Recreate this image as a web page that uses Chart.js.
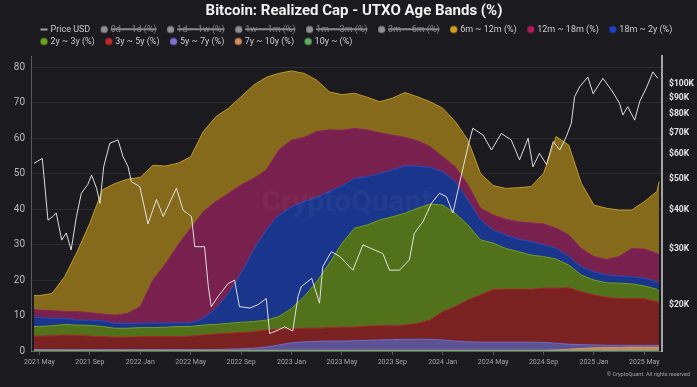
<!DOCTYPE html>
<html><head><meta charset="utf-8">
<script src="https://cdn.jsdelivr.net/npm/chart.js@4.4.1/dist/chart.umd.min.js"></script>
<style>html,body{margin:0;padding:0;background:#1b1b1f;}canvas{display:block;}</style>
</head><body>
<canvas id="c" width="697" height="387"></canvas>
<script>
// ---------- DATA ----------
const bandDates = ['2021-04-18','2021-05-01','2021-06-01','2021-07-01','2021-08-01','2021-09-01','2021-10-01','2021-11-01','2021-12-01',
'2022-01-01','2022-02-01','2022-03-01','2022-04-01','2022-05-01','2022-06-01','2022-07-01','2022-08-01','2022-09-01','2022-10-01','2022-11-01','2022-12-01',
'2023-01-01','2023-02-01','2023-03-01','2023-04-01','2023-05-01','2023-06-01','2023-07-01','2023-08-01','2023-09-01','2023-10-01','2023-11-01','2023-12-01',
'2024-01-01','2024-02-01','2024-03-01','2024-04-01','2024-05-01','2024-06-01','2024-07-01','2024-08-01','2024-09-01','2024-10-01','2024-11-01','2024-12-01',
'2025-01-01','2025-02-01','2025-03-01','2025-04-01','2025-05-01','2025-06-01','2025-06-06'];

const band6m12m = [3.9,4.1,4.8,9.8,16.9,25.2,35.0,37.1,37.8,36.4,32.3,27.6,23.0,20.1,22.6,23.9,24.0,24.8,26.3,26.1,21.6,19.5,18.0,14.5,10.7,10.0,9.9,9.2,8.7,10.4,12.6,12.4,12.6,13.7,12.7,12.6,9.8,8.3,8.7,9.6,10.2,14.2,25.8,25.3,18.3,14.5,14.4,13.1,10.8,13.4,17.4,20.6];
const band12m18m = [2.2,2.1,2.2,1.9,2.4,2.1,1.9,2.3,2.8,4.7,12.1,16.6,22.0,26.7,30.0,30.1,28.2,24.9,20.1,16.9,18.3,18.8,18.1,18.5,17.4,15.7,14.1,13.2,11.5,9.8,8.1,7.1,5.9,4.2,4.2,4.3,3.3,4.3,4.4,4.9,5.3,5.9,5.7,6.1,5.2,4.3,4.4,5.5,8.0,8.2,8.0,8.0];
const band18m2y = [2.6,2.5,2.1,1.7,1.4,1.5,1.6,1.4,1.4,1.2,1.3,1.2,1.0,1.0,1.9,4.5,8.4,13.8,20.2,25.4,28.6,28.6,26.8,23.8,20.2,16.2,14.0,13.6,13.1,13.2,13.3,11.9,10.3,9.4,8.9,7.0,5.6,3.6,3.8,3.5,3.8,3.3,3.0,2.4,2.3,2.3,2.2,2.0,2.0,2.2,2.1,2.4];
const band2y3y = [2.7,2.7,2.8,3.0,2.9,3.0,2.9,2.5,2.5,2.6,2.6,2.7,2.9,2.7,2.8,2.7,2.8,2.9,2.9,2.8,3.6,5.7,8.9,13.1,18.1,23.6,27.9,28.5,29.8,30.7,31.5,32.4,32.7,30.0,26.3,21.1,15.5,13.1,11.5,10.6,9.6,8.9,8.2,6.4,4.7,4.2,4.1,4.3,4.2,3.6,3.5,3.1];
const band3y5y = [3.8,3.8,3.9,4.1,4.0,3.8,3.6,3.5,3.5,3.6,3.6,3.6,3.6,3.8,4.1,4.4,4.5,4.6,4.6,4.8,4.4,4.0,3.8,3.7,3.8,3.9,3.8,4.0,4.0,3.9,4.0,4.5,5.4,8.0,9.7,11.8,13.3,14.8,14.9,14.9,14.9,15.3,15.5,15.9,14.9,14.1,13.5,13.2,13.1,13.1,12.3,12.0];
const band5y7y = [0.2,0.2,0.2,0.2,0.2,0.2,0.2,0.2,0.2,0.2,0.2,0.2,0.2,0.2,0.2,0.2,0.3,0.4,0.6,0.9,1.5,2.1,2.4,2.5,2.6,2.6,2.7,2.8,2.9,3.0,3.1,3.1,3.1,2.9,2.6,2.4,2.3,2.3,2.3,2.3,2.3,2.2,1.9,1.4,1.1,0.8,0.6,0.6,0.5,0.5,0.5,0.5];
const band7y10y = [0.1,0.1,0.1,0.1,0.1,0.1,0.1,0.1,0.1,0.1,0.1,0.1,0.1,0.1,0.1,0.1,0.1,0.1,0.1,0.1,0.1,0.1,0.1,0.1,0.1,0.1,0.1,0.1,0.1,0.1,0.1,0.1,0.1,0.1,0.1,0.1,0.1,0.1,0.1,0.1,0.1,0.1,0.2,0.4,0.6,0.8,0.9,0.9,1.0,1.0,1.0,1.0];
const band10yPlus = [0.1,0.1,0.1,0.1,0.1,0.1,0.1,0.1,0.1,0.1,0.1,0.1,0.1,0.1,0.1,0.1,0.1,0.1,0.1,0.1,0.1,0.1,0.1,0.1,0.1,0.1,0.1,0.1,0.1,0.1,0.1,0.1,0.1,0.1,0.1,0.1,0.1,0.1,0.1,0.1,0.1,0.1,0.1,0.1,0.1,0.1,0.1,0.1,0.1,0.1,0.1,0.1];

const priceDates = ['2021-04-18','2021-05-08','2021-05-13','2021-05-22','2021-06-03','2021-06-11','2021-06-24','2021-07-05','2021-07-17','2021-07-30',
'2021-08-11','2021-08-27','2021-09-05','2021-09-17','2021-09-25','2021-10-04','2021-10-19','2021-11-08','2021-11-20','2021-12-02','2021-12-10','2021-12-31',
'2022-01-20','2022-02-09','2022-02-24','2022-03-28','2022-04-13','2022-05-03','2022-05-11','2022-06-04','2022-06-13','2022-06-20','2022-07-06','2022-07-31',
'2022-08-16','2022-08-28','2022-09-22','2022-10-12','2022-11-01','2022-11-09','2022-11-29','2022-12-15','2023-01-04','2023-01-17','2023-01-25','2023-02-18',
'2023-03-08','2023-03-16','2023-04-06','2023-04-26','2023-05-28','2023-06-21','2023-08-09','2023-08-25','2023-09-18','2023-10-12','2023-10-24','2023-11-14',
'2023-12-04','2023-12-24','2024-01-10','2024-01-26','2024-02-15','2024-03-01','2024-03-13','2024-04-07','2024-04-27','2024-05-21','2024-06-14','2024-07-04',
'2024-07-25','2024-08-06','2024-08-22','2024-09-08','2024-09-24','2024-10-10','2024-10-26','2024-11-07','2024-11-15','2024-11-27','2024-12-17','2024-12-30',
'2025-01-23','2025-02-12','2025-03-02','2025-03-10','2025-03-22','2025-04-08','2025-04-20','2025-05-06','2025-05-22','2025-06-03'];
const priceUSD = [56000,58000,49600,37000,38000,39000,32000,33700,29800,38000,
45000,48000,51400,46700,41800,54600,64800,66400,58800,54600,49000,47200,
36000,43000,38000,46700,39800,38000,30500,30500,22800,19700,21200,23300,
23900,19700,19500,20000,20900,16200,16600,17000,16500,21200,22800,24200,
20200,26400,29400,28400,25700,30900,29000,25700,25700,27700,33600,36600,
41800,45000,43900,39000,51400,63200,72300,68800,61700,69600,66400,57400,
67200,54600,60200,55500,65600,61700,68000,74900,91000,97800,105000,93000,
104000,95500,86700,79600,84600,76700,88000,97000,109000,104000];

const xTickDates = ['2021-05-01','2021-09-01','2022-01-01','2022-05-01','2022-09-01','2023-01-01','2023-05-01','2023-09-01','2024-01-01','2024-05-01','2024-09-01','2025-01-01','2025-05-01'];
const xTickLabels = ['2021 May','2021 Sep','2022 Jan','2022 May','2022 Sep','2023 Jan','2023 May','2023 Sep','2024 Jan','2024 May','2024 Sep','2025 Jan','2025 May'];
const priceTicks = [20000,30000,40000,50000,60000,70000,80000,90000,100000];

// ---------- HELPERS ----------
function toM(s){const [y,m,d]=s.split('-').map(Number);const dim=new Date(y,m,0).getDate();return (y-2021)*12+(m-1)+(d-1)/dim;}
const pts=(dates,vals)=>dates.map((d,i)=>({x:toM(d),y:vals[i]}));
const xTickVals = xTickDates.map(toM);

function dotImg(color){const c=document.createElement('canvas');c.width=24;c.height=10;const g=c.getContext('2d');g.fillStyle=color;g.beginPath();g.arc(16.5,5,3.6,0,Math.PI*2);g.fill();return c;}
function lineImg(color){const c=document.createElement('canvas');c.width=24;c.height=10;const g=c.getContext('2d');g.strokeStyle=color;g.lineWidth=1.5;g.beginPath();g.moveTo(13,5);g.lineTo(20,5);g.stroke();return c;}

const bands = [
  {label:'10y ~ (%)',     data:band10yPlus, legend:'#5fae5f', fill:'rgb(95,160,95)',  line:'rgb(110,180,110)'},
  {label:'7y ~ 10y (%)',  data:band7y10y,   legend:'#d08a5c', fill:'rgb(192,140,98)', line:'rgb(210,150,105)'},
  {label:'5y ~ 7y (%)',   data:band5y7y,    legend:'#7c70d4', fill:'rgb(92,82,150)',  line:'rgb(118,106,196)'},
  {label:'3y ~ 5y (%)',   data:band3y5y,    legend:'#c4262b', fill:'rgb(122,34,34)',  line:'rgb(170,40,40)'},
  {label:'2y ~ 3y (%)',   data:band2y3y,    legend:'#6ea31c', fill:'rgb(82,113,27)',  line:'rgb(112,160,36)'},
  {label:'18m ~ 2y (%)',  data:band18m2y,   legend:'#1f3fc8', fill:'rgb(26,54,140)',  line:'rgb(40,76,192)'},
  {label:'12m ~ 18m (%)', data:band12m18m,  legend:'#b3195f', fill:'rgb(120,33,78)',  line:'rgb(150,36,92)'},
  {label:'6m ~ 12m (%)',  data:band6m12m,   legend:'#d4a017', fill:'rgb(134,106,27)', line:'rgb(192,152,36)'}
];
const hiddenBands = ['3m ~ 6m (%)','1m ~ 3m (%)','1w ~ 1m (%)','1d ~ 1w (%)','0d ~ 1d (%)'];

const datasets = [];
bands.forEach((b,i)=>datasets.push({label:b.label,data:pts(bandDates,b.data),yAxisID:'y',
  backgroundColor:b.fill,borderColor:b.line,borderWidth:1,pointRadius:0,tension:0,
  fill:i===0?'origin':'-1',legendColor:b.legend}));
hiddenBands.forEach(l=>datasets.push({label:l,data:[],yAxisID:'y',hidden:true,fill:false,
  backgroundColor:'#8e8e96',borderColor:'#8e8e96',pointRadius:0,legendColor:'#8e8e96'}));
datasets.push({label:'Price USD',data:pts(priceDates,priceUSD),yAxisID:'y2',order:-1,fill:false,
  borderColor:'rgba(236,236,236,0.92)',backgroundColor:'rgba(236,236,236,0.92)',borderWidth:1,pointRadius:0,tension:0,isPrice:true});

const N = datasets.length;
const rank = i => datasets[i].isPrice ? 0 : (N-1-i);

const bgPlugin={id:'bg',beforeDraw(c){const x=c.ctx;x.save();x.fillStyle='#1b1b1f';x.fillRect(0,0,c.width,c.height);x.restore();}};
// nudge the legend block to start above the plot (like the reference) and the title slightly right
const shiftPlugin={id:'shift',afterLayout(c){ if(c.legend){c.legend.left+=30;} if(c.titleBlock){c.titleBlock.left+=11;} }};
const markPlugin={id:'marks',
  afterDatasetsDraw(c){const x=c.ctx,a=c.chartArea;x.save();x.font='bold 30px Roboto';x.fillStyle='rgba(255,255,255,0.035)';x.textAlign='center';x.textBaseline='middle';x.fillText('CryptoQuant',(a.left+a.right)/2,203);x.restore();},
  afterDraw(c){const x=c.ctx;x.save();x.font='5.5px Roboto';x.fillStyle='#a0a0a6';x.textAlign='right';x.textBaseline='middle';x.fillText('© CryptoQuant. All rights reserved',690,375);x.restore();}};

new Chart(document.getElementById('c'),{
  type:'line',
  data:{datasets},
  plugins:[bgPlugin,shiftPlugin,markPlugin],
  options:{
    responsive:false,animation:false,
    layout:{padding:{left:0,right:0,top:0,bottom:0}},
    plugins:{
      title:{display:true,text:'Bitcoin: Realized Cap - UTXO Age Bands (%)',color:'#f2f2f2',
        font:{family:'Roboto',size:15,weight:'bold'},padding:{top:2,bottom:2}},
      legend:{position:'top',align:'start',
        labels:{usePointStyle:true,pointStyleWidth:13,boxHeight:9,padding:3,color:'#c9c9cf',
          font:{family:'Roboto',size:9},
          generateLabels(chart){
            const items=Chart.defaults.plugins.legend.labels.generateLabels(chart);
            items.forEach(it=>{const ds=chart.data.datasets[it.datasetIndex];
              it.pointStyle=ds.isPrice?lineImg('#cfcfd4'):dotImg(ds.legendColor);
              it.fontColor=it.hidden?'#86868e':'#c9c9cf';});
            return items;},
          sort:(a,b)=>rank(a.datasetIndex)-rank(b.datasetIndex)}},
      tooltip:{enabled:false}
    },
    scales:{
      x:{type:'linear',min:3.33,max:53.4,
        afterBuildTicks:s=>{s.ticks=xTickVals.map(v=>({value:v}));},
        ticks:{autoSkip:false,maxRotation:0,padding:3,color:'#a4a4aa',font:{family:'Roboto',size:7},
          callback:(v)=>{const i=xTickVals.findIndex(t=>Math.abs(t-v)<1e-6);return i>=0?xTickLabels[i]:'';}},
        grid:{drawOnChartArea:false,drawTicks:true,tickLength:4,color:'rgba(200,200,200,0.35)'},
        border:{color:'rgba(200,200,200,0.35)'},
        afterFit:s=>{s.height=36;}},
      y:{stacked:true,min:0,max:83.1,
        ticks:{stepSize:10,includeBounds:false,color:'#b8b8be',font:{family:'Roboto',size:10},padding:6},
        grid:{color:'rgba(255,255,255,0.07)',drawTicks:false},
        border:{color:'rgba(170,170,170,0.45)'},
        afterFit:s=>{s.width=31;}},
      y2:{type:'logarithmic',position:'right',min:14260,max:122400,
        afterBuildTicks:s=>{s.ticks=priceTicks.map(v=>({value:v}));},
        ticks:{autoSkip:false,padding:7,color:'#e4e4e8',font:{family:'Roboto',size:8.5,weight:'bold'},
          callback:v=>'$'+Math.round(v/1000)+'K'},
        grid:{display:false,drawTicks:false},
        border:{color:'rgba(200,200,200,0.8)',width:2},
        afterFit:s=>{s.width=35;}}
    }
  }
});
</script>
</body></html>
